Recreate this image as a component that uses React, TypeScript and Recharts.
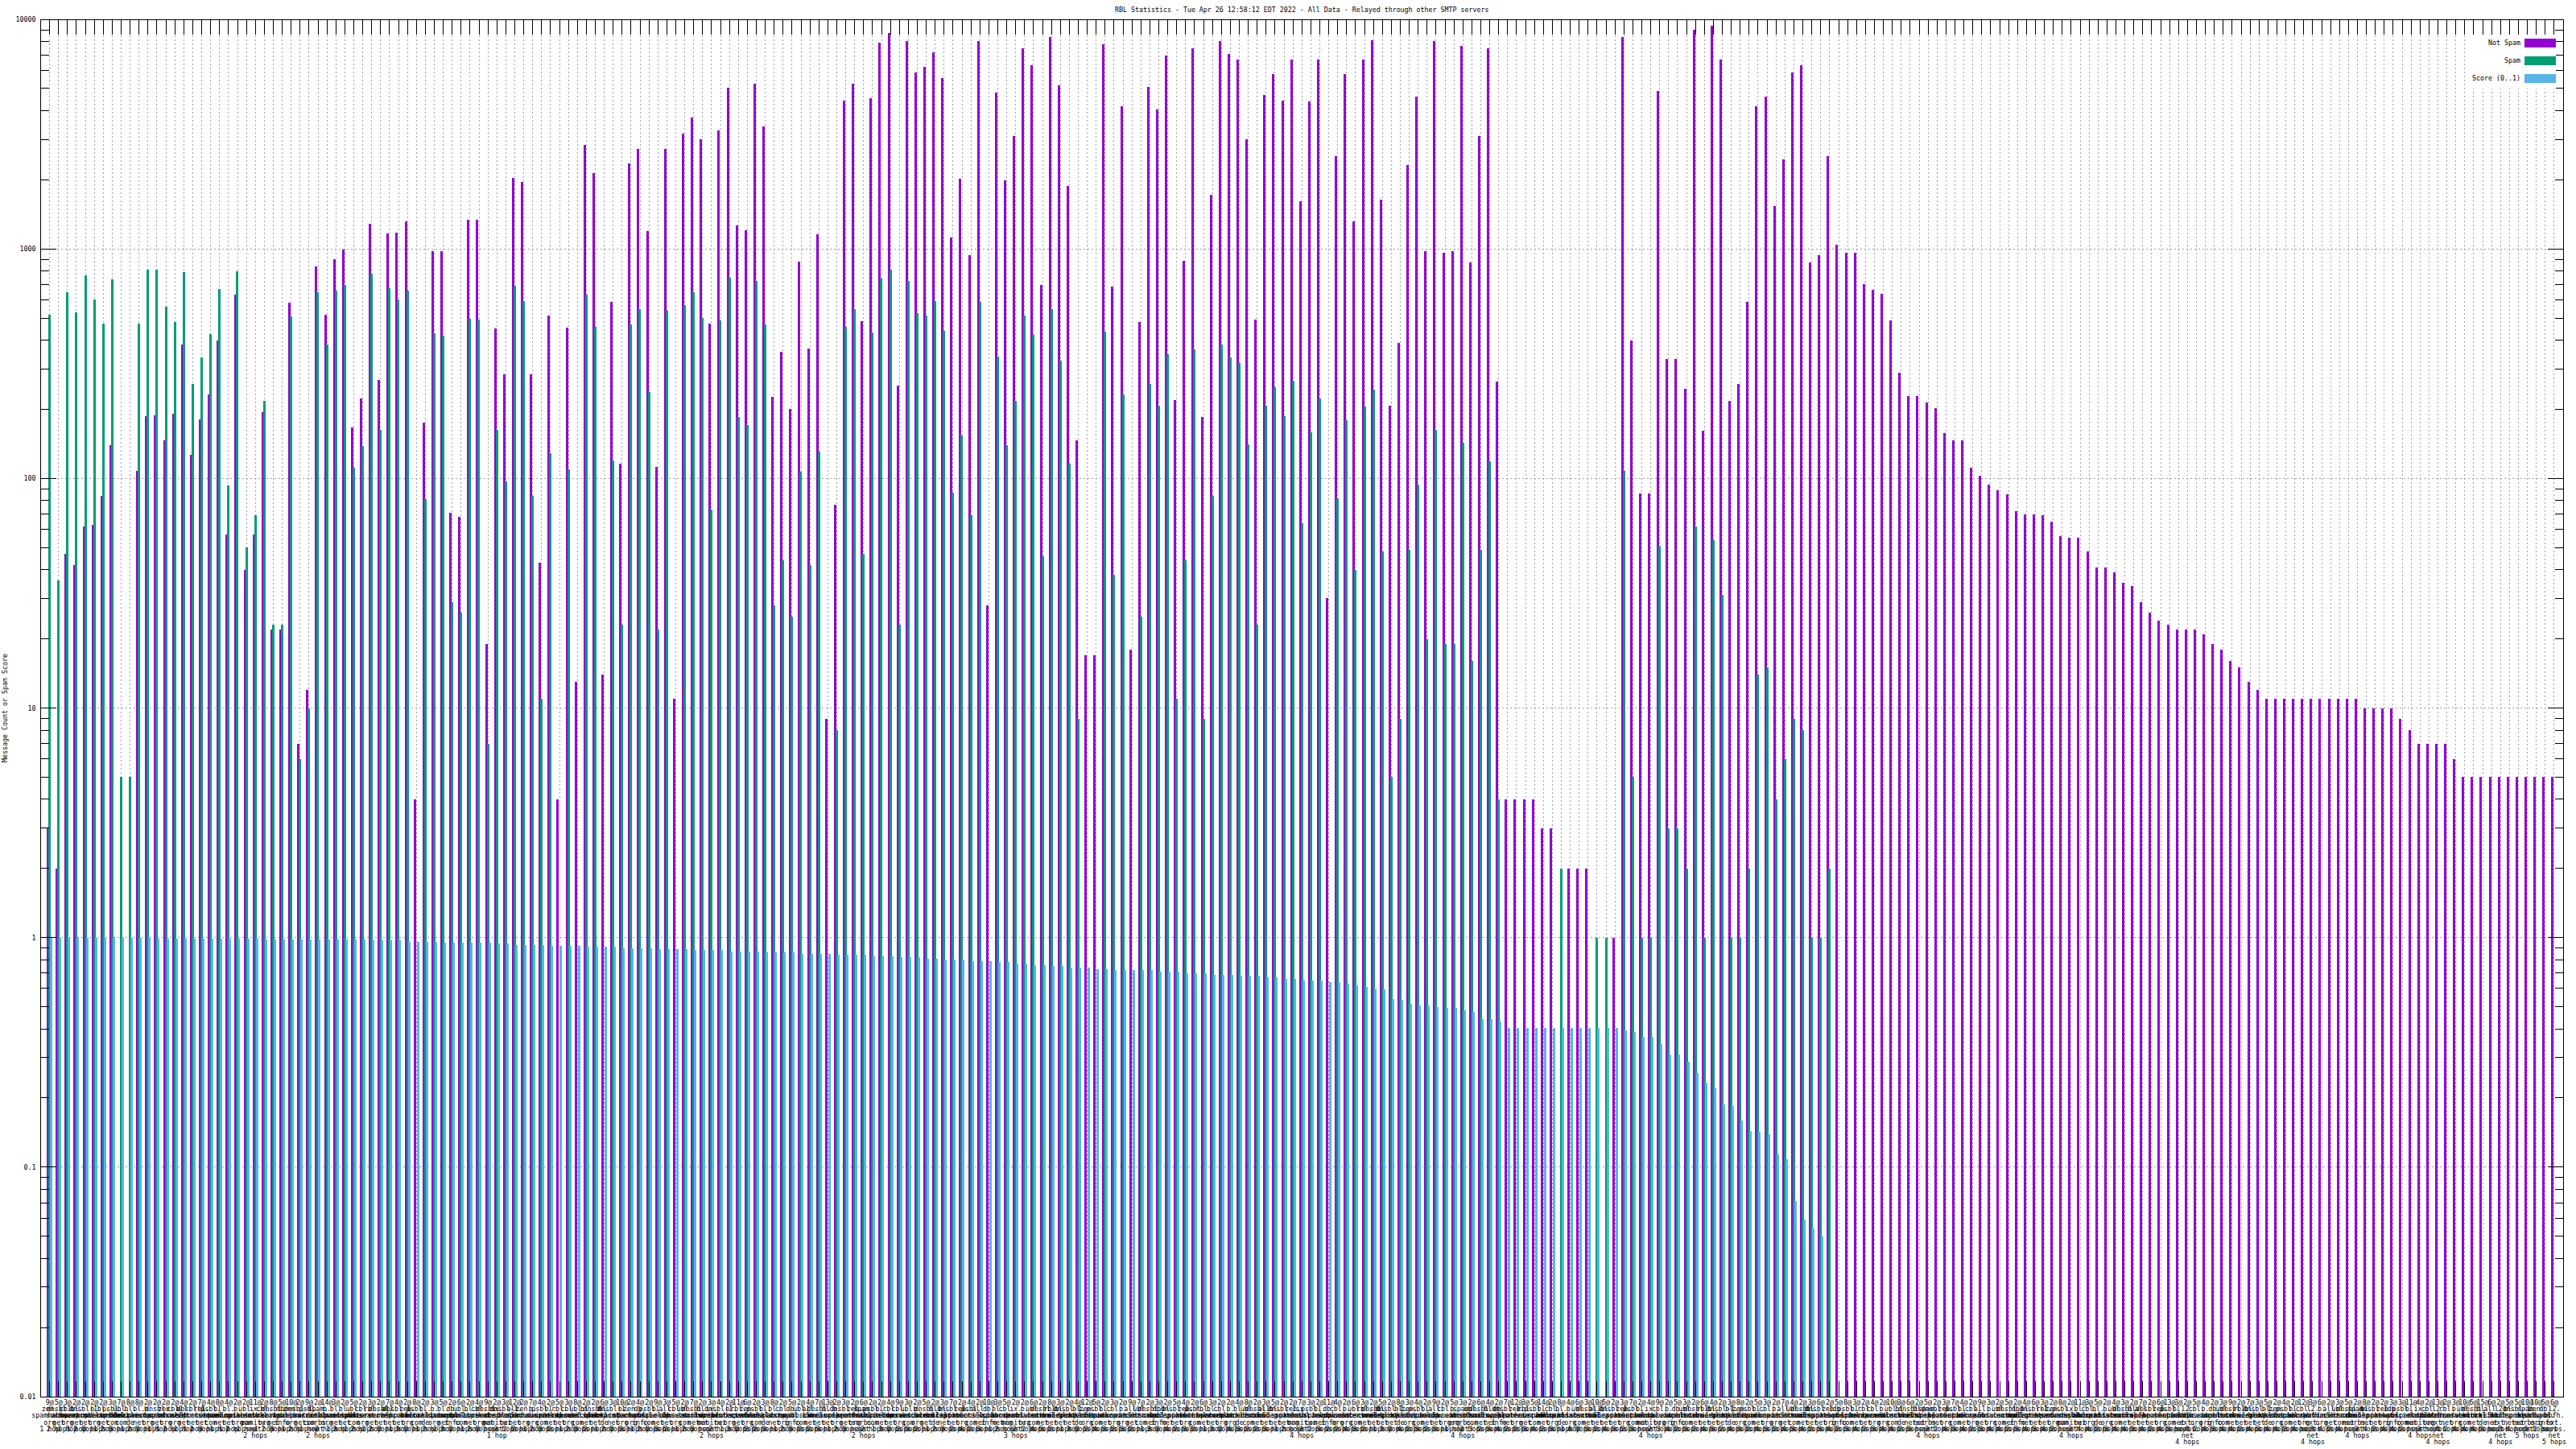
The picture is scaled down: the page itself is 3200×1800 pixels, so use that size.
import { BarChart, Bar, CartesianGrid, Legend, XAxis, YAxis } from 'recharts'

const notSpam = [
  3, 2, 47, 42, 62, 63, 84, 140, null, null,
  108, 187, 188, 146, 191, 384, 127, 181, 233, 398,
  57, 632, 40, 57, 195, 22, 22, 585, 7, 12,
  839, 517, 902, 990, 167, 223, 1288, 269, 1172, 1179,
  1314, 4, 175, 975, 980, 71, 68, 1342, 1342, 19,
  452, 285, 2046, 1963, 283, 43, 514, 4, 455, 13,
  2844, 2133, 14, 588, 116, 2366, 2729, 1197, 112, 2729,
  11, 3170, 3741, 3013, 474, 3270, 5040, 1268, 1210, 5224,
  3424, 226, 355, 201, 883, 368, 1155, 9, 77, 4432,
  5255, 486, 4545, 7889, 8710, 254, 8050, 5888, 6194, 7161,
  5559, 1125, 2023, 940, 8050, 28, 4811, 1995, 3105, 7499,
  6295, 697, 8356, 5176, 1875, 147, 17, 17, 7762, 687,
  4188, 18, 481, 5093, 4055, 6970, 220, 889, 7499, 185,
  1726, 8017, 7047, 6699, 2999, 494, 4688, 5794, 4432, 6699,
  1614, 4406, 6699, 30, 2529, 5794, 1314, 6699, 8128, 1640,
  208, 390, 2328, 4592, 980, 8050, 964, 975, 7691, 870,
  3090, 7499, 265, 4, 4, 4, 4, 3, 3, null,
  2, 2, 2, null, null, 1, 8356, 398, 86, 86,
  4887, 332, 332, 246, 8974, 161, 9354, 6653, 218, 258,
  588, 4188, 4613, 1542, 2461, 5848, 6295, 870, 940, 2529,
  1043, 962, 962, 701, 662, 638, 489, 288, 229, 229,
  214, 202, 158, 146, 146, 111, 103, 94, 89, 85,
  72, 70, 70, 69, 65, 56, 55, 55, 48, 41,
  41, 39, 35, 34, 29, 26, 24, 23, 22, 22,
  22, 21, 19, 18, 16, 15, 13, 12, 11, 11,
  11, 11, 11, 11, 11, 11, 11, 11, 11, 10,
  10, 10, 10, 9, 8, 7, 7, 7, 7, 6,
  5, 5, 5, 5, 5, 5, 5, 5, 5, 5,
  5,
]

const spam = [
  518, 36, 648, 530, 765, 604, 474, 734, 5, 5,
  474, 814, 809, 562, 481, 794, 257, 336, 427, 669,
  93, 801, 50, 69, 218, 23, 23, 507, 6, 10,
  645, 384, 659, 697, 111, 138, 781, 163, 676, 604,
  659, null, 81, 430, 417, 29, 26, 496, 494, 7,
  163, 97, 693, 594, 84, 11, 129, null, 110, null,
  632, 459, null, 120, 23, 469, 545, 237, 22, 536,
  null, 568, 648, 501, 73, 489, 750, 185, 171, 726,
  469, 28, 44, 25, 107, 42, 131, null, 8, 459,
  545, 47, 434, 745, 814, 23, 723, 525, 514, 592,
  441, 87, 154, 69, 588, null, 340, 140, 217, 514,
  421, 46, 545, 327, 116, 9, null, null, 436, 38,
  232, null, 25, 258, 207, 348, 11, 44, 366, 9,
  84, 384, 337, 318, 141, 23, 207, 250, 187, 267,
  64, 159, 223, null, 82, 180, 40, 205, 243, 48,
  5, 9, 49, 94, 20, 163, 19, 19, 143, 16,
  49, 119, 4, null, null, null, null, null, null, 2,
  null, null, null, 1, 1, null, 108, 5, 1, 1,
  51, 3, 3, 2, 62, 1, 54, 31, 1, 1,
  2, 14, 15, 4, 6, 9, 8, 1, 1, 2,
]

const score = [
  1, 1, 1, 1, 1, 1, 1, 1, 1, 1,
  1, 1, 0.99, 0.99, 0.99, 0.99, 0.99, 0.99, 0.99, 0.99,
  0.99, 0.99, 0.99, 0.99, 0.98, 0.98, 0.98, 0.98, 0.98, 0.98,
  0.98, 0.98, 0.98, 0.98, 0.98, 0.98, 0.97, 0.97, 0.97, 0.97,
  0.96, 0.96, 0.96, 0.96, 0.95, 0.95, 0.95, 0.95, 0.95, 0.95,
  0.94, 0.94, 0.93, 0.93, 0.93, 0.93, 0.92, 0.92, 0.92, 0.92,
  0.91, 0.91, 0.91, 0.91, 0.9, 0.9, 0.9, 0.9, 0.89, 0.89,
  0.89, 0.89, 0.88, 0.88, 0.88, 0.88, 0.87, 0.87, 0.87, 0.87,
  0.86, 0.86, 0.86, 0.86, 0.85, 0.85, 0.85, 0.85, 0.84, 0.84,
  0.84, 0.84, 0.83, 0.83, 0.83, 0.82, 0.82, 0.82, 0.81, 0.81,
  0.8, 0.8, 0.8, 0.79, 0.79, 0.79, 0.78, 0.78, 0.77, 0.77,
  0.76, 0.76, 0.75, 0.75, 0.74, 0.74, 0.74, 0.73, 0.73, 0.72,
  0.72, 0.72, 0.72, 0.72, 0.71, 0.71, 0.71, 0.7, 0.7, 0.7,
  0.69, 0.69, 0.69, 0.68, 0.68, 0.68, 0.67, 0.67, 0.66, 0.66,
  0.65, 0.65, 0.65, 0.64, 0.64, 0.63, 0.62, 0.61, 0.598, 0.593,
  0.542, 0.535, 0.514, 0.505, 0.505, 0.5, 0.496, 0.493, 0.481, 0.476,
  0.443, 0.44, 0.43, 0.403, 0.403, 0.403, 0.403, 0.403, 0.403, 0.403,
  0.403, 0.403, 0.403, 0.403, 0.403, 0.403, 0.393, 0.387, 0.368, 0.368,
  0.343, 0.31, 0.31, 0.287, 0.256, 0.234, 0.223, 0.188, 0.185, 0.16,
  0.144, 0.142, 0.139, 0.114, 0.108, 0.071, 0.059, 0.054, 0.05,
]

const zones = [
  'zen.spamhaus.org', 'bl.spamcop.net', 'cbl.abuseat.org', 'b.barracudacentral.org',
  'dnsbl.sorbs.net', 'psbl.surriel.com', 'ubl.unsubscore.com', 'dnsbl-1.uceprotect.net',
  'bl.mailspike.net', 'all.s5h.net', 'spam.dnsbl.sorbs.net', 'ix.dnsbl.manitu.net',
  'bl.blocklist.de', 'rbl.interserver.net', 'db.wpbl.info', 'l2.bbfh.ext.sorbs.net',
]

const labelHits = [
  9, 5, 3, 2, 2, 2, 2, 3, 7, 8,
  8, 2, 2, 2, 2, 4, 2, 7, 4, 8,
  4, 2, 2, 11, 2, 8, 5, 10, 2, 9,
  2, 14, 3, 2, 5, 2, 3, 2, 7, 4,
  2, 8, 2, 3, 5, 2, 6, 2, 4, 9,
  2, 3, 12, 2, 7, 4, 2, 5, 3, 8,
  2, 2, 6, 3, 10, 2, 4, 2, 9, 3,
  5, 2, 7, 2, 3, 4, 2, 11, 6, 2,
  3, 8, 2, 5, 2, 4, 7, 13, 2, 3,
  2, 6, 2, 2, 4, 9, 3, 2, 5, 2,
  3, 7, 2, 4, 2, 10, 3, 5, 2, 2,
  6, 2, 8, 3, 2, 4, 12, 5, 2, 3,
  2, 9, 7, 2, 3, 2, 5, 4, 2, 6,
  3, 2, 2, 4, 8, 2, 3, 5, 2, 2,
  7, 3, 2, 11, 4, 2, 6, 3, 2, 5,
  2, 8, 3, 4, 2, 9, 2, 5, 3, 2,
  6, 4, 2, 7, 12, 3, 5, 14, 2, 8,
  4, 6, 3, 10, 5, 2, 3, 7, 2, 4,
  9, 2, 5, 3, 2, 6, 4, 2, 3, 8,
  2, 5, 3, 2, 7, 4, 2, 3, 6, 2,
  5, 8, 3, 2, 4, 2, 10, 3, 6, 2,
  5, 2, 3, 7, 4, 2, 9, 3, 2, 5,
  2, 4, 6, 3, 2, 8, 2, 11, 3, 5,
  2, 4, 3, 2, 7, 2, 6, 13, 3, 2,
  5, 4, 2, 3, 9, 2, 7, 3, 5, 2,
  4, 2, 12, 3, 6, 2, 3, 5, 2, 8,
  2, 2, 3, 3, 11, 4, 2, 13, 2, 3,
  10, 5, 15, 6, 2, 5, 5, 10, 10, 5,
  6,
]

const labelZones = [
  0, 4, 2, 1, 7, 3, 8, 5, 6, 12,
  1, 3, 4, 0, 2, 9, 7, 13, 5, 1,
  8, 3, 6, 11, 2, 4, 14, 0, 7, 5,
  10, 3, 1, 8, 6, 2, 13, 4, 9, 7,
  0, 5, 12, 3, 1, 14, 6, 8, 2, 4,
  11, 7, 9, 0, 3, 5, 1, 13, 2, 6,
  8, 4, 12, 7, 3, 0, 14, 5, 1, 9,
  2, 6, 4, 8, 11, 7, 3, 13, 0, 5,
  12, 1, 2, 14, 6, 9, 4, 8, 3, 7,
  0, 10, 5, 1, 13, 2, 6, 3, 4, 12,
  8, 7, 0, 5, 9, 14, 1, 2, 11, 3,
  6, 4, 13, 8, 7, 12, 0, 5, 1, 2,
  3, 9, 6, 4, 14, 8, 7, 0, 5, 13,
  1, 2, 3, 12, 6, 4, 9, 8, 7, 0,
  11, 5, 1, 14, 2, 3, 6, 13, 4, 8,
  7, 12, 0, 5, 1, 9, 2, 3, 10, 6,
  4, 8, 14, 7, 0, 13, 5, 1, 2, 12,
  3, 6, 4, 9, 8, 7, 0, 5, 1, 11,
  2, 3, 14, 6, 4, 13, 8, 7, 12, 0,
  5, 1, 2, 3, 9, 6, 4, 8, 7, 0,
  14, 5, 1, 13, 2, 3, 6, 12, 4, 8,
  10, 7, 0, 5, 1, 2, 9, 3, 6, 4,
  14, 8, 7, 13, 0, 5, 11, 1, 2, 12,
  3, 6, 4, 8, 9, 7, 0, 5, 1, 15,
  2, 3, 14, 6, 4, 13, 8, 7, 12, 0,
  5, 1, 2, 15, 3, 9, 6, 4, 10, 8,
  7, 0, 14, 5, 1, 11, 2, 15, 13, 3,
  6, 4, 12, 9, 15, 8, 7, 10, 0, 14,
  15,
]

const labelHops = [
  1, 2, 1, 1, 2, 2, 1, 2, 3, 1,
  2, 2, 1, 1, 2, 1, 1, 2, 3, 1,
  1, 2, 1, 2, 1, 2, 3, 1, 2, 1,
  2, 2, 1, 3, 1, 2, 1, 2, 2, 1,
  3, 2, 1, 2, 1, 3, 2, 1, 2, 2,
  1, 3, 2, 2, 1, 2, 3, 2, 1, 2,
  3, 2, 1, 2, 2, 3, 1, 2, 2, 3,
  2, 1, 2, 3, 2, 2, 1, 3, 2, 2,
  2, 3, 1, 2, 3, 2, 2, 3, 1, 2,
  3, 2, 2, 1, 3, 2, 2, 3, 2, 1,
  2, 3, 2, 4, 2, 3, 1, 2, 3, 2,
  2, 4, 3, 2, 1, 3, 2, 2, 4, 3,
  2, 3, 2, 1, 3, 2, 4, 2, 3, 2,
  1, 3, 2, 4, 3, 2, 2, 3, 1, 2,
  4, 3, 2, 3, 2, 2, 4, 3, 2, 1,
  3, 2, 4, 2, 3, 2, 3, 1, 4, 2,
  3, 2, 3, 4, 2, 2, 3, 4, 2, 3,
  1, 4, 2, 3, 2, 4, 3, 2, 3, 4,
  2, 3, 4, 2, 3, 2, 4, 3, 2, 4,
  3, 2, 4, 3, 2, 4, 3, 4, 2, 3,
  4, 2, 3, 4, 2, 3, 4, 4, 2, 3,
  4, 3, 2, 4, 3, 4, 2, 3, 4, 4,
  2, 3, 4, 3, 4, 2, 4, 3, 4, 4,
  2, 3, 4, 4, 3, 4, 2, 4, 3, 4,
  4, 2, 4, 3, 4, 4, 2, 4, 3, 4,
  4, 2, 4, 4, 3, 4, 2, 4, 4, 3,
  4, 2, 4, 4, 2, 4, 3, 4, 4, 2,
  4, 4, 4, 3, 4, 2, 4, 5, 5, 2,
  5,
]

const yMajors = [0.01, 0.1, 1, 10, 100, 1000, 10000]
const yMultiples = [1, 2, 3, 4, 5, 6, 7, 8, 9]
const yTicks = [
  ...yMajors.slice(0, -1).flatMap((m) => yMultiples.map((k) => Number((m * k).toPrecision(2)))),
  10000,
]

const data = notSpam.map((v, i) => ({
  idx: i + 1,
  notSpam: v,
  spam: spam[i] ?? null,
  score: score[i] ?? null,
}))

const W = 3200
const H = 1800
const TOP = 24
const BOTTOM = 1735
const LEFT = 50.5
const RIGHT = 3184
const MONO = '"DejaVu Sans Mono", monospace'

function tickLabel(i: number) {
  const hops = labelHops[i]
  return [
    `${labelHits[i]}@`,
    ...zones[labelZones[i]].split('.').map((p, k, all) => (k < all.length - 1 ? p + '.' : p)),
    hops === 1 ? '1 hop' : `${hops} hops`,
  ]
}

function XTick({ x, payload }: any) {
  const lines = tickLabel(Number(payload.value) - 1)
  return (
    <g>
      <line x1={x} x2={x} y1={TOP} y2={TOP + 19} stroke="#000" shapeRendering="crispEdges" />
      <line x1={x} x2={x} y1={BOTTOM} y2={BOTTOM - 19} stroke="#000" shapeRendering="crispEdges" />
      <text x={x} y={1745} textAnchor="middle" fontFamily={MONO} fontSize={8.3} fill="#000">
        {lines.map((l, k) => (
          <tspan key={k} x={x} dy={k === 0 ? 0 : 8.2}>
            {l}
          </tspan>
        ))}
      </text>
    </g>
  )
}

function YTick({ y, payload }: any) {
  const major = yMajors.includes(payload.value)
  const len = major ? 19 : 10
  return (
    <g>
      <line x1={LEFT} x2={LEFT + len} y1={y} y2={y} stroke="#000" shapeRendering="crispEdges" />
      <line x1={RIGHT} x2={RIGHT - len} y1={y} y2={y} stroke="#000" shapeRendering="crispEdges" />
      {major && (
        <text x={44.5} y={y + 3} textAnchor="end" fontFamily={MONO} fontSize={8.3} fill="#000">
          {payload.value}
        </text>
      )}
    </g>
  )
}

function LegendBox({ payload }: any) {
  return (
    <div style={{ position: 'relative', width: 108, height: 67, background: '#fff' }}>
      {(payload ?? []).map((p: any, k: number) => (
        <div key={p.value}>
          <span
            style={{
              position: 'absolute',
              right: 44,
              top: 5 + k * 22,
              fontFamily: MONO,
              fontSize: 8.3,
              lineHeight: '11px',
              whiteSpace: 'nowrap',
            }}
          >
            {p.value}
          </span>
          <span
            style={{
              position: 'absolute',
              right: 0,
              top: 5 + k * 22,
              width: 39,
              height: 11,
              background: p.color,
            }}
          />
        </div>
      ))}
    </div>
  )
}

export default function App() {
  return (
    <div style={{ position: 'absolute', left: 0, top: 0, width: W, height: H, background: '#fff' }}>
      <BarChart
        width={W}
        height={H}
        data={data}
        barSize={3}
        barGap={-1}
        margin={{ top: TOP, right: W - RIGHT, bottom: 0, left: 0 }}
      >
        <text x={(LEFT + RIGHT) / 2} y={15} textAnchor="middle" fontFamily={MONO} fontSize={8.3} fill="#000">
          RBL Statistics - Tue Apr 26 12:58:12 EDT 2022 - All Data - Relayed through other SMTP servers
        </text>
        <text
          x={9}
          y={(TOP + BOTTOM) / 2}
          textAnchor="middle"
          transform={`rotate(-90 9 ${(TOP + BOTTOM) / 2})`}
          fontFamily={MONO}
          fontSize={8.3}
          fill="#000"
        >
          Message Count or Spam Score
        </text>
        <CartesianGrid
          stroke="#a0a0a0"
          strokeDasharray="2 3"
          horizontalValues={yMajors}
          shapeRendering="crispEdges"
        />
        <XAxis
          dataKey="idx"
          type="category"
          interval={0}
          height={65}
          padding={{ left: 5.6, right: 5.5 }}
          tickLine={false}
          axisLine={false}
          tick={XTick}
          zIndex={100}
        />
        <YAxis
          type="number"
          scale="log"
          domain={[0.01, 10000]}
          allowDataOverflow
          ticks={yTicks}
          interval={0}
          width={LEFT}
          tickLine={false}
          axisLine={false}
          tick={YTick}
          zIndex={100}
        />
        <Bar dataKey="notSpam" name="Not Spam" fill="#9400d3" isAnimationActive={false} shapeRendering="crispEdges" />
        <Bar dataKey="spam" name="Spam" fill="#009e73" isAnimationActive={false} shapeRendering="crispEdges" />
        <Bar dataKey="score" name="Score (0..1)" fill="#56b4e9" isAnimationActive={false} shapeRendering="crispEdges" />
        <Legend
          layout="vertical"
          align="center"
          verticalAlign="middle"
          itemSorter={null}
          content={LegendBox}
          wrapperStyle={{ left: 3067, top: 43, width: 108, height: 67 }}
        />
        <rect
          x={LEFT}
          y={TOP}
          width={RIGHT - LEFT}
          height={BOTTOM - TOP}
          fill="none"
          stroke="#000"
          shapeRendering="crispEdges"
        />
      </BarChart>
    </div>
  )
}
